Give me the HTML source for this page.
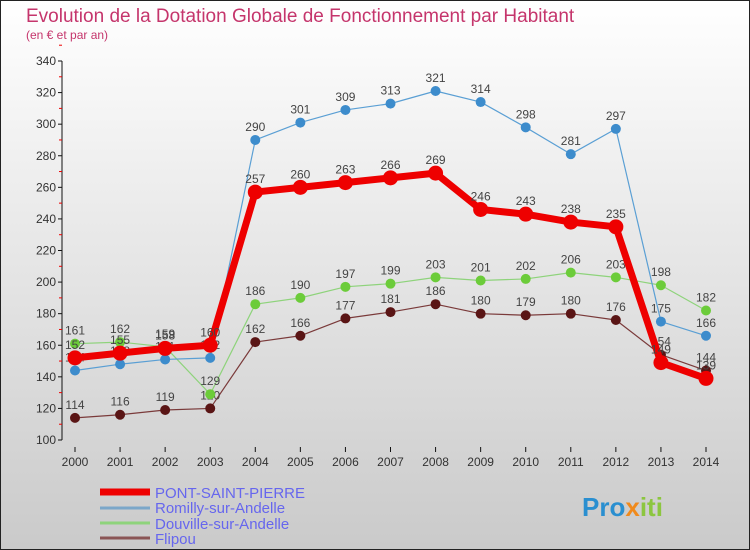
<!DOCTYPE html>
<html><head><meta charset="utf-8"><style>
body{margin:0}
#c{width:750px;height:550px;position:relative;overflow:hidden;font-family:"Liberation Sans",sans-serif}
</style></head><body>
<div id="c">
<svg id="s" width="750" height="550" xmlns="http://www.w3.org/2000/svg">
<defs><linearGradient id="bg" x1="0" y1="0" x2="0" y2="1"><stop offset="0" stop-color="#ffffff"/><stop offset="1" stop-color="#cacaca"/></linearGradient></defs>
<rect x="0.5" y="0.5" width="749" height="549" fill="url(#bg)" stroke="#222"/>
<text x="26" y="22" font-size="19" fill="#c5356c">Evolution de la Dotation Globale de Fonctionnement par Habitant</text>
<text x="26" y="39" font-size="12" fill="#c5356c">(en € et par an)</text>
<g id="axes"></g><g id="series"></g>
<g>
<line x1="100" y1="492" x2="150" y2="492" stroke="#ee0000" stroke-width="7"/>
<text x="155" y="498" font-size="15" fill="#6666ee">PONT-SAINT-PIERRE</text>
<line x1="100" y1="508" x2="150" y2="508" stroke="#7ba7c9" stroke-width="3"/>
<text x="155" y="513" font-size="15" fill="#6666ee">Romilly-sur-Andelle</text>
<line x1="100" y1="523" x2="150" y2="523" stroke="#8ed37b" stroke-width="3"/>
<text x="155" y="529" font-size="15" fill="#6666ee">Douville-sur-Andelle</text>
<line x1="100" y1="538" x2="150" y2="538" stroke="#8a5555" stroke-width="3"/>
<text x="155" y="544" font-size="15" fill="#6666ee">Flipou</text>
</g>
<text x="582" y="516" font-size="26" font-weight="bold"><tspan fill="#2a8fd0">Pro</tspan><tspan fill="#f08a1c">x</tspan><tspan fill="#8cc63f">iti</tspan></text>
</svg>
<script>
const years=[2000,2001,2002,2003,2004,2005,2006,2007,2008,2009,2010,2011,2012,2013,2014];
const yTicks=[100,120,140,160,180,200,220,240,260,280,300,320,340];
const pontSaintPierre=[152,155,158,160,257,260,263,266,269,246,243,238,235,149,139];
const romilly=[144,148,151,152,290,301,309,313,321,314,298,281,297,175,166];
const douville=[161,162,159,129,186,190,197,199,203,201,202,206,203,198,182];
const flipou=[114,116,119,120,162,166,177,181,186,180,179,180,176,154,144];
const NS="http://www.w3.org/2000/svg";
const X=i=>75+i*(706-75)/(years.length-1);
const Y=v=>440-(v-100)*(440-61)/240;
function mk(p,t,a){const e=document.createElementNS(NS,t);for(const k in a)e.setAttribute(k,a[k]);p.appendChild(e);return e;}
const ax=document.getElementById('axes');
let yl=mk(ax,'line',{x1:62,y1:61,x2:62,y2:440,stroke:'#111'});


yTicks.forEach(v=>{
 mk(ax,'line',{x1:58,y1:Y(v),x2:62,y2:Y(v),stroke:'#111'});
 mk(ax,'line',{x1:59,y1:Y(v+10),x2:62,y2:Y(v+10),stroke:'#e00'});
 const t=mk(ax,'text',{x:56,y:Y(v)+4,'font-size':12,fill:'#333','text-anchor':'end'});
 t.textContent=v;
 
 
});
years.forEach((yr,i)=>{
 mk(ax,'line',{x1:X(i),y1:447,x2:X(i),y2:452,stroke:'#111'});
 const t=mk(ax,'text',{x:X(i),y:466,'font-size':12,fill:'#333','text-anchor':'middle'});
 t.textContent=yr;
 
 
});
const sg=document.getElementById('series');
function draw(data,color,w,r,name,dot){
 const g=mk(sg,'g',{});
 
 
 const p=mk(g,'polyline',{points:data.map((v,i)=>X(i)+','+Y(v)).join(' '),fill:'none',stroke:color,'stroke-width':w,'stroke-linejoin':'round'});
 
 
 data.forEach((v,i)=>{
  const c=mk(g,'circle',{cx:X(i),cy:Y(v),r:r,fill:dot});
  
  
  const t=mk(g,'text',{x:X(i),y:Y(v)-9,'font-size':12,fill:'#444','text-anchor':'middle'});
  t.textContent=v;
  
  
 });
}
draw(flipou,'#7a3a3a',1.2,5,'flipou','#5a1515');
draw(douville,'#8ed37b',1.2,5,'douville','#6ccc3a');
draw(romilly,'#5a9fd4',1.2,5,'romilly','#3d8ccc');
draw(pontSaintPierre,'#ee0000',7,7.5,'pont-saint-pierre','#ee0000');
</script>
</div>
</body></html>
